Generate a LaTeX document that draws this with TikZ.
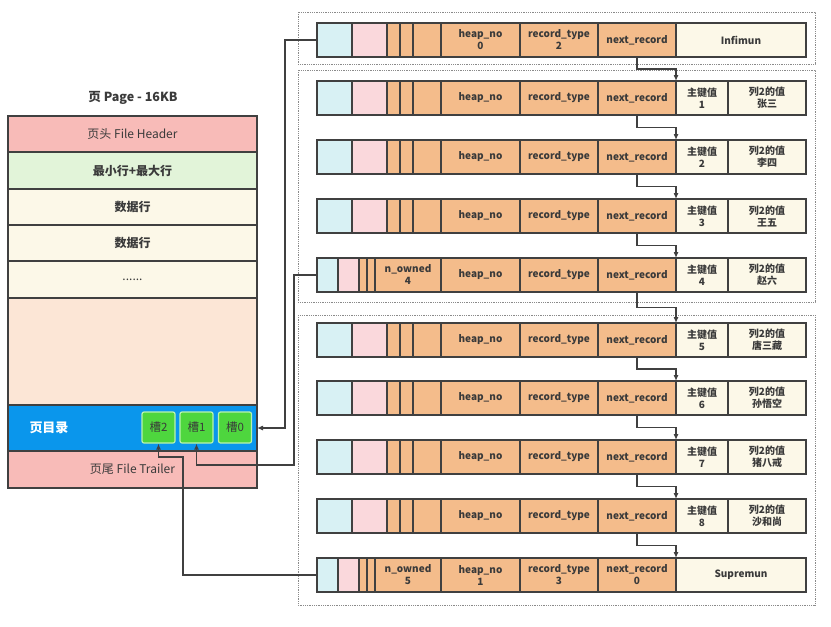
\documentclass[tikz,border=0pt]{standalone}
\usepackage{fontspec}
\setmainfont{Noto Sans CJK SC}
\usetikzlibrary{positioning,arrows.meta,calc}
\definecolor{linec}{HTML}{404040}
\definecolor{textc}{HTML}{3A3A3A}
\definecolor{cyanc}{HTML}{D8F1F4}
\definecolor{pinkc}{HTML}{FAD8DC}
\definecolor{orangec}{HTML}{F4BC8B}
\definecolor{creamc}{HTML}{FCF8E8}
\definecolor{headc}{HTML}{F8BBB8}
\definecolor{minmaxc}{HTML}{E2F4D9}
\definecolor{freec}{HTML}{FCE6D6}
\definecolor{dirc}{HTML}{0A96EC}
\definecolor{slotc}{HTML}{4ED63E}
\definecolor{slotedge}{HTML}{B8F3AE}
\definecolor{groupc}{HTML}{8A8A8A}
\begin{document}
\begin{tikzpicture}[
    x=1pt, y=-1pt,
    every node/.style={font=\fontsize{12}{13}\selectfont, text=textc},
    cell/.style={draw=linec, line width=1.1pt, minimum height=34pt, inner sep=0pt, outer sep=0pt, anchor=west, align=center, font=\fontsize{10}{12}\selectfont\bfseries},
    part/.style={draw=linec, line width=1.1pt, minimum width=249pt, inner sep=0pt, outer sep=0pt, align=center},
    slot/.style={draw=slotedge, line width=1.2pt, fill=slotc, rounded corners=2pt, minimum width=33pt, minimum height=31pt, inner sep=0pt, font=\fontsize{11.5}{12}\selectfont},
    group/.style={draw=groupc, densely dotted, line width=0.8pt},
    link/.style={draw=linec, line width=1.1pt, -{Latex[length=6pt,width=5pt]}}
]
    \useasboundingbox (0,0) rectangle (831,627);

    \node [font=\fontsize{12.5}{13}\selectfont\bfseries] (ttl) at (133,98) {页 Page - 16KB};
    \node [part, fill=headc, minimum height=36pt, anchor=north west] (hdr) at (8,116) {页头 File Header};
    \node [part, fill=minmaxc, minimum height=37pt, below=0pt of hdr, font=\fontsize{12}{13}\selectfont\bfseries] (minmax) {最小行+最大行};
    \node [part, fill=creamc, minimum height=36pt, below=0pt of minmax, font=\fontsize{12}{13}\selectfont\bfseries] (data1) {数据行};
    \node [part, fill=creamc, minimum height=36pt, below=0pt of data1, font=\fontsize{12}{13}\selectfont\bfseries] (data2) {数据行};
    \node [part, fill=creamc, minimum height=37pt, below=0pt of data2] (more) {......};
    \node [part, fill=freec, minimum height=107pt, below=0pt of more] (free) {};
    \node [part, fill=dirc, minimum height=46pt, below=0pt of free] (dir) {};
    \node [part, fill=headc, minimum height=37pt, below=0pt of dir] (trl) {页尾 File Trailer};
    \node [text=white, font=\fontsize{13}{14}\selectfont\bfseries] (dirlbl) at (49,428) {页目录};
    \node [slot] (s2) at (158.5,427.5) {槽2};
    \node [slot] (s1) at (196.5,427.5) {槽1};
    \node [slot] (s0) at (235,427.5) {槽0};

    \draw [group] (298,12) rectangle (815,64);
    \draw [group] (298,70) rectangle (815,302);
    \draw [group] (298,315) rectangle (815,605);

    \node [cell, fill=cyanc, minimum width=35pt] (c0) at (317,40) {};
    \node [cell, fill=pinkc, minimum width=35pt, right=0pt of c0] (p0) {};
    \node [cell, fill=orangec, minimum width=13pt, right=0pt of p0] (a0) {};
    \node [cell, fill=orangec, minimum width=13pt, right=0pt of a0] (b0) {};
    \node [cell, fill=orangec, minimum width=28pt, right=0pt of b0] (o0) {};
    \node [cell, fill=orangec, minimum width=79pt, right=0pt of o0] (h0) {heap\_no\\0};
    \node [cell, fill=orangec, minimum width=78pt, right=0pt of h0] (t0) {record\_type\\2};
    \node [cell, fill=orangec, minimum width=78pt, right=0pt of t0] (n0) {next\_record};
    \node [cell, fill=creamc, minimum width=130pt, right=0pt of n0] (k0) {Infimun};

    \foreach \i/\y/\who in {1/98/张三, 2/157/李四, 3/216/王五, 5/340/唐三藏, 6/398/孙悟空, 7/457/猪八戒, 8/516/沙和尚} {
        \node [cell, fill=cyanc, minimum width=35pt] (c\i) at (317,\y) {};
        \node [cell, fill=pinkc, minimum width=35pt, right=0pt of c\i] (p\i) {};
        \node [cell, fill=orangec, minimum width=13pt, right=0pt of p\i] (a\i) {};
        \node [cell, fill=orangec, minimum width=13pt, right=0pt of a\i] (b\i) {};
        \node [cell, fill=orangec, minimum width=28pt, right=0pt of b\i] (o\i) {};
        \node [cell, fill=orangec, minimum width=79pt, right=0pt of o\i] (h\i) {heap\_no};
        \node [cell, fill=orangec, minimum width=78pt, right=0pt of h\i] (t\i) {record\_type};
        \node [cell, fill=orangec, minimum width=78pt, right=0pt of t\i] (n\i) {next\_record};
        \node [cell, fill=creamc, minimum width=52pt, right=0pt of n\i] (k\i) {主键值\\\i};
        \node [cell, fill=creamc, minimum width=78pt, right=0pt of k\i] (v\i) {列2的值\\\who};
    }

    \node [cell, fill=cyanc, minimum width=21pt] (c4) at (317,275) {};
    \node [cell, fill=pinkc, minimum width=21pt, right=0pt of c4] (p4) {};
    \node [cell, fill=orangec, minimum width=8pt, right=0pt of p4] (a4) {};
    \node [cell, fill=orangec, minimum width=8pt, right=0pt of a4] (b4) {};
    \node [cell, fill=orangec, minimum width=66pt, right=0pt of b4] (o4) {n\_owned\\4};
    \node [cell, fill=orangec, minimum width=79pt, right=0pt of o4] (h4) {heap\_no};
    \node [cell, fill=orangec, minimum width=78pt, right=0pt of h4] (t4) {record\_type};
    \node [cell, fill=orangec, minimum width=78pt, right=0pt of t4] (n4) {next\_record};
    \node [cell, fill=creamc, minimum width=52pt, right=0pt of n4] (k4) {主键值\\4};
    \node [cell, fill=creamc, minimum width=78pt, right=0pt of k4] (v4) {列2的值\\赵六};

    \node [cell, fill=cyanc, minimum width=21pt] (c9) at (317,575) {};
    \node [cell, fill=pinkc, minimum width=21pt, right=0pt of c9] (p9) {};
    \node [cell, fill=orangec, minimum width=8pt, right=0pt of p9] (a9) {};
    \node [cell, fill=orangec, minimum width=8pt, right=0pt of a9] (b9) {};
    \node [cell, fill=orangec, minimum width=66pt, right=0pt of b9] (o9) {n\_owned\\5};
    \node [cell, fill=orangec, minimum width=79pt, right=0pt of o9] (h9) {heap\_no\\1};
    \node [cell, fill=orangec, minimum width=78pt, right=0pt of h9] (t9) {record\_type\\3};
    \node [cell, fill=orangec, minimum width=78pt, right=0pt of t9] (n9) {next\_record\\0};
    \node [cell, fill=creamc, minimum width=130pt, right=0pt of n9] (k9) {Supremun};

    \foreach \a/\b in {0/1, 1/2, 2/3, 3/4, 4/5, 5/6, 6/7, 7/8, 8/9}
        \draw [link] (n\a.south) |- ($(n\a.south)!.5!(k\b.north west)$) -| (k\b.north west);

    \draw [link] (c0.west) -- ++(-32,0) |- (dir.east);
    \draw [link] (c4.west) -- ++(-23,0) -- ++(0,190) -| (s1.south);
    \draw [link] (c9.west) -- ++(-134,0) -- ++(0,-118) -| (s2.south);
\end{tikzpicture}
\end{document}
